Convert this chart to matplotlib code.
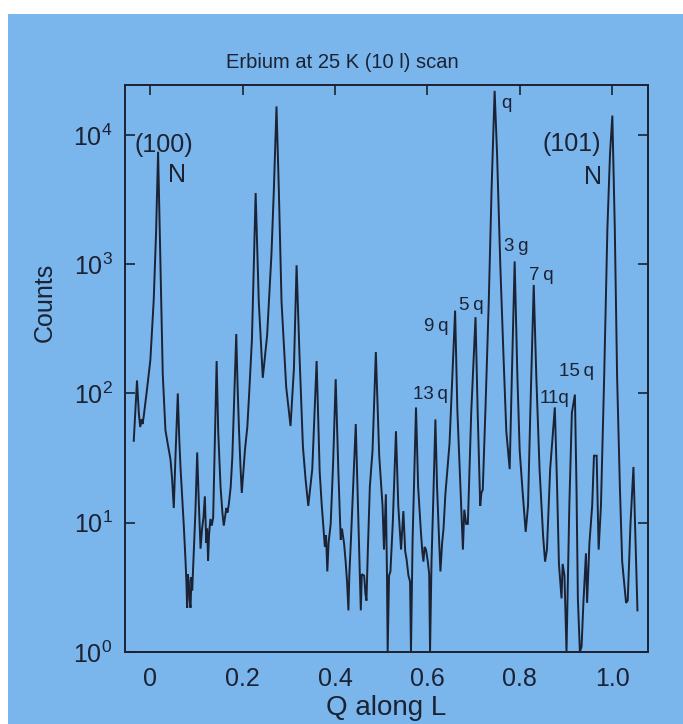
import matplotlib
matplotlib.use("Agg")
import matplotlib.pyplot as plt
from matplotlib.patches import Rectangle
from matplotlib.ticker import FixedLocator, FixedFormatter, LogFormatterMathtext

plt.rcParams["font.family"] = ["Liberation Sans", "DejaVu Sans"]
plt.rcParams["mathtext.fontset"] = "custom"
plt.rcParams["mathtext.rm"] = "Liberation Sans"
plt.rcParams["mathtext.it"] = "Liberation Sans:italic"
plt.rcParams["mathtext.bf"] = "Liberation Sans:bold"

# (10 l) scan of erbium at 25 K: momentum transfer along L and detector counts
q_along_l = [
    -0.036, -0.029, -0.025, -0.022, -0.019, -0.017, -0.0145, -0.007, 0.0, 0.0072,
    0.0123, 0.0167, 0.0217, 0.0268, 0.0326, 0.038, 0.0435, 0.047, 0.0507, 0.054,
    0.0594, 0.0625, 0.0652, 0.0725, 0.0761, 0.078, 0.0797, 0.081, 0.0833, 0.085,
    0.087, 0.089, 0.0906, 0.094, 0.0975, 0.1014, 0.105, 0.1087, 0.112, 0.115,
    0.118, 0.121, 0.123, 0.125, 0.127, 0.130, 0.133, 0.136, 0.1395, 0.1435,
    0.147, 0.152, 0.156, 0.159, 0.1645, 0.167, 0.170, 0.174, 0.1775, 0.182,
    0.186, 0.189, 0.192, 0.195, 0.198, 0.201, 0.205, 0.210, 0.214, 0.220,
    0.228, 0.2348, 0.2435, 0.2529, 0.2623, 0.2674, 0.2732, 0.2783, 0.2841, 0.2942,
    0.3036, 0.3109, 0.3167, 0.3232, 0.3304, 0.336, 0.3420, 0.3465, 0.3507, 0.3601,
    0.3667, 0.371, 0.3757, 0.378, 0.3805, 0.3833, 0.386, 0.3906, 0.396, 0.4014,
    0.4072, 0.4123, 0.415, 0.4196, 0.423, 0.426, 0.4290, 0.431, 0.4341, 0.439,
    0.4449, 0.4507, 0.453, 0.4558, 0.458, 0.4630, 0.466, 0.4681, 0.471, 0.4754,
    0.4812, 0.4884, 0.4957, 0.5029, 0.506, 0.5101, 0.5125, 0.514, 0.517, 0.520,
    0.525, 0.532, 0.537, 0.543, 0.548, 0.552, 0.555, 0.559, 0.5625, 0.5645,
    0.568, 0.5754, 0.580, 0.586, 0.589, 0.5915, 0.594, 0.597, 0.601, 0.604,
    0.6058, 0.609, 0.613, 0.6174, 0.621, 0.625, 0.6283, 0.632, 0.635, 0.639,
    0.648, 0.654, 0.6601, 0.665, 0.6732, 0.677, 0.680, 0.684, 0.6877, 0.695,
    0.7043, 0.709, 0.7145, 0.717, 0.720, 0.726, 0.733, 0.739, 0.7457, 0.751,
    0.758, 0.765, 0.771, 0.7783, 0.783, 0.7891, 0.795, 0.800, 0.806, 0.813,
    0.818, 0.823, 0.8304, 0.836, 0.843, 0.8507, 0.855, 0.859, 0.866, 0.8761,
    0.881, 0.885, 0.8906, 0.893, 0.897, 0.9014, 0.9075, 0.913, 0.9196, 0.923,
    0.926, 0.9304, 0.934, 0.938, 0.9435, 0.946, 0.951, 0.957, 0.9609, 0.9667,
    0.9710, 0.976, 0.983, 0.990, 0.9956, 1.0007, 1.006, 1.011, 1.017, 1.022,
    1.0304, 1.034, 1.040, 1.0464, 1.052, 1.0551,
]
counts = [
    43, 126, 70, 55, 63, 58, 66, 110, 182, 525,
    1740, 7400, 1000, 141, 52, 40, 31, 22, 13, 30,
    100, 45, 27, 9.3, 5.1, 3.5, 2.2, 4, 3.5, 2.5,
    2.2, 3.8, 3.0, 6, 12, 35, 14, 6.3, 9, 11,
    16, 7, 9, 5.1, 8, 10.7, 9.5, 11, 40, 178,
    50, 19, 12, 9.5, 13, 12, 14, 19, 32, 100,
    288, 110, 52, 28, 17, 24, 37, 55, 100, 263,
    3550, 513, 132, 282, 1200, 3700, 16600, 3700, 513, 112,
    56, 155, 980, 190, 39, 22, 13.5, 19, 26, 178,
    25, 14, 8.5, 6.5, 8, 4.2, 7, 9.8, 30, 129,
    25, 7.4, 9, 6.9, 5, 3.5, 2.1, 4, 6.9, 18,
    58, 9.8, 4.5, 2.1, 4, 3.9, 2.8, 2.5, 6, 19,
    36, 209, 33, 13.5, 6.2, 16.6, 4, 1.0, 3.9, 4.2,
    9.8, 51, 13.5, 6.2, 12.3, 6, 5.2, 3.9, 3.5, 1.0,
    7.4, 78, 19, 8.5, 6, 5, 6.5, 6.2, 5, 4,
    1.0, 5, 16, 63, 19, 8, 4.2, 7, 9, 16.6,
    41, 135, 437, 74, 13.5, 6.2, 12.6, 9.8, 9.8, 71,
    389, 71, 13.5, 17, 18, 79, 513, 3700, 21900, 7080,
    980, 190, 51, 26, 135, 1050, 135, 36, 18, 8.5,
    13.5, 71, 690, 135, 26, 7.9, 5, 6.2, 26, 78,
    19, 4.8, 2.6, 4.8, 3.9, 1.0, 13.5, 71, 98, 19,
    2.6, 1.0, 1.1, 2.4, 5.8, 2.4, 6.9, 13.5, 33, 33,
    6.2, 13.5, 135, 1900, 7080, 14100, 1900, 135, 19, 5,
    2.4, 2.5, 9.8, 27, 5, 2.1,
]

# Reflection labels: text and anchor position (Q, counts)
peak_labels = ["(100)", "N", "q", "(101)", "N", "3\u2009g", "7\u2009q", "5\u2009q",
               "9\u2009q", "13\u2009q", "11q", "15\u2009q"]
label_q = [0.030, 0.057, 0.772, 0.913, 0.959, 0.793, 0.846, 0.696, 0.620, 0.606, 0.876, 0.924]
label_counts = [8300, 4900, 17600, 8500, 4700, 1380, 810, 480, 330, 98, 91, 148]

x_ticks = [0.0, 0.2, 0.4, 0.6, 0.8, 1.0]
x_tick_labels = ["0", "0.2", "0.4", "0.6", "0.8", "1.0"]
y_ticks = [1, 10, 100, 1000, 10000]

panel_color = "#7ab5ec"
ink = "#1b2233"

fig = plt.figure(figsize=(6.83, 7.24), dpi=100, facecolor="white")
fig.patches.append(Rectangle((8 / 683, 0), 1 - 8 / 683, 1 - 14 / 724,
                             transform=fig.transFigure, facecolor=panel_color,
                             edgecolor="none", zorder=-10))

ax = fig.add_axes([0.183, 0.0994, 0.7658, 0.7832])
ax.set_facecolor("none")
ax.plot(q_along_l, counts, color=ink, lw=1.4, solid_joinstyle="miter")
ax.set_yscale("log")
ax.set_xlim(-0.055, 1.078)
ax.set_ylim(1, 24300)

ax.xaxis.set_major_locator(FixedLocator(x_ticks))
ax.xaxis.set_major_formatter(FixedFormatter(x_tick_labels))
ax.yaxis.set_major_locator(FixedLocator(y_ticks))
ax.yaxis.set_major_formatter(LogFormatterMathtext())
ax.yaxis.set_minor_locator(FixedLocator([]))

ax.tick_params(axis="x", which="major", direction="in", top=True, bottom=True,
               length=0, pad=10.5, labelsize=18, colors=ink)
for t in ax.xaxis.get_major_ticks():
    t.tick2line.set_markersize(7)
    t.tick2line.set_markeredgewidth(1.2)
ax.tick_params(axis="y", which="major", direction="in", left=True, right=True,
               length=7, width=1.2, pad=9, labelsize=18, colors=ink)
for s in ax.spines.values():
    s.set_linewidth(1.4)
    s.set_color(ink)

ax.set_title("Erbium at 25 K (10 l) scan", fontsize=14.5, color=ink, pad=12, x=0.415)
ax.set_xlabel("Q along L", fontsize=20, color=ink, labelpad=3)
ax.set_ylabel("Counts", fontsize=18, color=ink, va="center")
ax.yaxis.set_label_coords(-0.153, 0.616)

for text, xq, yc in zip(peak_labels, label_q, label_counts):
    big = text.startswith("(") or text == "N"
    ax.text(xq, yc, text, fontsize=18 if big else 13.5,
            color=ink, ha="center", va="center")

fig.savefig("out.png", dpi=100, facecolor="white")
